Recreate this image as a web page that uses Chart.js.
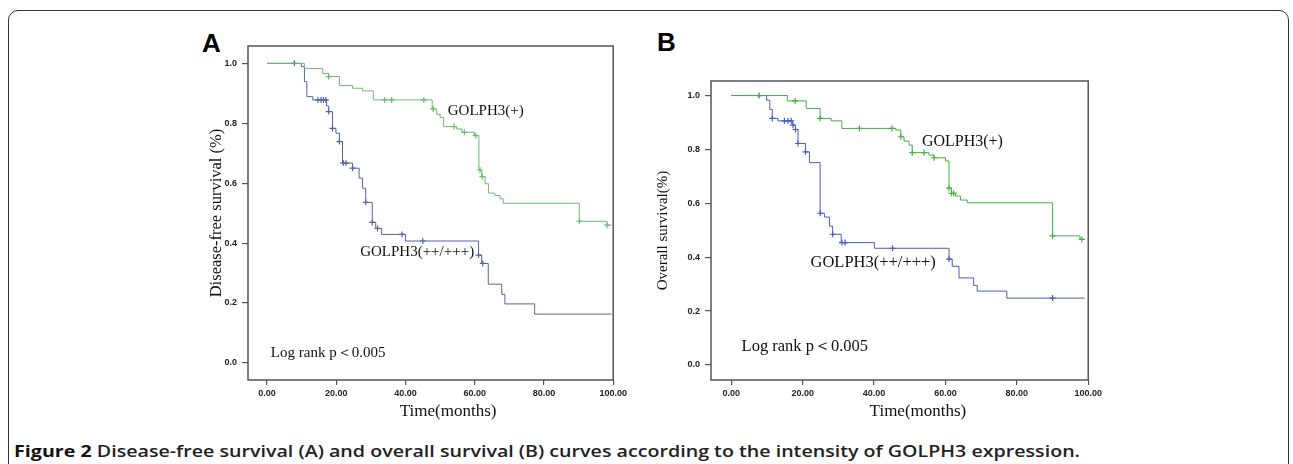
<!DOCTYPE html>
<html>
<head>
<meta charset="utf-8">
<script src="https://cdn.jsdelivr.net/npm/chart.js@4.4.0/dist/chart.umd.min.js"></script>
<style>
  body { margin: 0; background: #fff; width: 1293px; height: 464px; overflow: hidden; position: relative; }
  #frame { position: absolute; left: 8px; top: 10px; width: 1279px; height: 520px; border: 1.5px solid #333; border-radius: 10px; }
  .wrap { position: absolute; }
  .panel { position: absolute; font-family: "Liberation Sans", Arial, sans-serif; font-weight: bold; font-size: 26px; color: #000; }
  #caption { position: absolute; left: 14px; top: 440px; font-family: "Open Sans", "Noto Sans", sans-serif; font-weight: 600; font-size: 16px; color: #222; white-space: nowrap; transform-origin: 0 0; }
  #caption b { font-weight: 700; color: #111; }
</style>
</head>
<body>
<div id="frame"></div>
<div class="panel" style="left:202px;top:28px;">A</div>
<div class="panel" style="left:657px;top:27px;">B</div>
<div class="wrap" style="left:160px;top:20px;width:470px;height:412px;"><canvas id="chartA"></canvas></div>
<div class="wrap" style="left:640px;top:20px;width:465px;height:412px;"><canvas id="chartB"></canvas></div>
<div id="caption"><b>Figure 2</b> Disease-free survival (A) and overall survival (B) curves according to the intensity of GOLPH3 expression.</div>
<script>
// tick values / labels
const xTicks = [0, 20, 40, 60, 80, 100];
const xTickLabels = ['0.00', '20.00', '40.00', '60.00', '80.00', '100.00'];
const yTicks = [0, 0.2, 0.4, 0.6, 0.8, 1.0];
const yTickLabels = ['0.0', '0.2', '0.4', '0.6', '0.8', '1.0'];

// A: disease-free survival, GOLPH3(+)
const dfsPosTime = [0, 10.8, 16.1, 17.8, 20.9, 24.7, 27.6, 30.7, 47.7, 49, 50, 51, 54.8, 56.3, 59.9, 61.2, 62, 63, 64, 65.8, 67.3, 68.2, 90.2, 98.2, 99.5];
const dfsPosSurv = [1.0, 0.983, 0.966, 0.956, 0.926, 0.917, 0.908, 0.878, 0.848, 0.83, 0.82, 0.789, 0.781, 0.77, 0.759, 0.644, 0.622, 0.598, 0.567, 0.559, 0.548, 0.533, 0.473, 0.46, 0.46];
const dfsPosCensTime = [17.8, 34, 36, 45.3, 48, 54, 57, 60.3, 61.5, 62.2, 90.2, 98.2];
const dfsPosCensSurv = [0.956, 0.878, 0.878, 0.878, 0.848, 0.789, 0.77, 0.759, 0.644, 0.622, 0.473, 0.46];
// A: disease-free survival, GOLPH3(++/+++)
const dfsHighTime = [0, 9.9, 10.8, 11.5, 13.2, 17.2, 17.8, 18.9, 19.9, 20.9, 21.8, 24.7, 26.6, 27.6, 28.5, 30.4, 31.4, 33.1, 40, 61.1, 62, 63.9, 67.8, 68.7, 77.3, 99.5];
const dfsHighSurv = [1.0, 0.989, 0.939, 0.889, 0.878, 0.858, 0.839, 0.783, 0.767, 0.739, 0.667, 0.65, 0.617, 0.583, 0.536, 0.469, 0.449, 0.429, 0.407, 0.36, 0.332, 0.263, 0.229, 0.197, 0.163, 0.163];
const dfsHighCensTime = [7.9, 14.7, 15.6, 16.3, 17.0, 17.8, 18.9, 20.9, 22, 22.8, 24.7, 28.5, 30.4, 31.9, 39, 45, 61.1, 62.3];
const dfsHighCensSurv = [1.0, 0.878, 0.878, 0.878, 0.878, 0.839, 0.783, 0.739, 0.667, 0.667, 0.65, 0.536, 0.469, 0.449, 0.429, 0.407, 0.36, 0.332];

// B: overall survival, GOLPH3(+)
const osPosTime = [0, 15.7, 21, 24.9, 28, 31, 46.1, 47.5, 48.4, 49.8, 50.7, 55.4, 56.8, 60, 61, 61.7, 62.8, 64.2, 66.1, 90, 97.7, 99];
const osPosSurv = [1, 0.98, 0.952, 0.915, 0.906, 0.878, 0.872, 0.847, 0.831, 0.816, 0.788, 0.779, 0.769, 0.757, 0.656, 0.637, 0.627, 0.612, 0.602, 0.479, 0.466, 0.466];
const osPosCensTime = [17.9, 24.9, 35.9, 45, 47.5, 50.7, 54, 56.8, 61, 61.7, 62.3, 90, 98.2];
const osPosCensSurv = [0.98, 0.915, 0.878, 0.878, 0.847, 0.788, 0.788, 0.769, 0.656, 0.637, 0.637, 0.479, 0.466];
// B: overall survival, GOLPH3(++/+++)
const osHighTime = [0, 9.9, 10.8, 11.5, 13.1, 17.1, 18, 18.7, 20.8, 21.9, 24.9, 26.1, 27.5, 28.4, 30.8, 40.1, 61, 61.9, 63.8, 67.9, 68.9, 77.2, 99];
const osHighSurv = [1, 0.983, 0.948, 0.915, 0.906, 0.89, 0.874, 0.822, 0.791, 0.751, 0.563, 0.549, 0.515, 0.485, 0.454, 0.433, 0.393, 0.366, 0.323, 0.295, 0.274, 0.248, 0.248];
const osHighCensTime = [7.8, 11.5, 14.9, 15.9, 16.8, 17.3, 18, 18.7, 20.8, 24.9, 28.4, 31, 31.9, 45.2, 61, 90];
const osHighCensSurv = [1, 0.915, 0.906, 0.906, 0.906, 0.89, 0.874, 0.822, 0.791, 0.563, 0.485, 0.454, 0.454, 0.433, 0.393, 0.248];

const pts = (xs, ys) => xs.map((x, i) => ({ x: x, y: ys[i] }));

function curve(t, s, color) {
  // 'before' in Chart.js = flat at the previous value, then drop at the new time
  return { data: pts(t, s), borderColor: color, borderWidth: 1, stepped: 'before', pointRadius: 0, fill: false };
}
function censor(t, s, color) {
  return { data: pts(t, s), showLine: false, pointStyle: 'cross', pointRadius: 3, borderColor: color, borderWidth: 1.2 };
}

// draws the box, x title and the text notes
const notes = {
  id: 'notes',
  afterDraw(chart, args, opts) {
    const { ctx, chartArea: a, scales } = chart;
    ctx.save();
    ctx.strokeStyle = '#555';
    ctx.lineWidth = 1.5;
    ctx.strokeRect(a.left, a.top, a.right - a.left, a.bottom - a.top);
    ctx.fillStyle = '#111';
    ctx.textBaseline = 'middle';
    ctx.font = '17px "Liberation Serif", "Times New Roman", serif';
    ctx.textAlign = 'center';
    ctx.fillText('Time(months)', scales.x.getPixelForValue(52.3), opts.titleY);
    ctx.textAlign = 'left';
    opts.items.forEach(it => {
      ctx.font = it.size + 'px "Liberation Serif", "Times New Roman", serif';
      ctx.fillText(it.text, scales.x.getPixelForValue(it.x), scales.y.getPixelForValue(it.y));
    });
    ctx.restore();
  }
};

function makeChart(id, datasets, yTitle, titleSize, yWidth, titlePad, padTop, xMin, yMin, yMax, items) {
  return new Chart(document.getElementById(id), {
    type: 'line',
    data: { datasets: datasets },
    options: {
      responsive: true,
      maintainAspectRatio: false,
      animation: false,
      layout: { padding: { left: 0, right: 14, top: padTop, bottom: 0 } },
      plugins: { legend: { display: false }, tooltip: { enabled: false }, notes: { items: items, titleY: 392 } },
      scales: {
        x: {
          type: 'linear', min: xMin, max: 100,
          afterBuildTicks: s => { s.ticks = xTicks.map(v => ({ value: v })); },
          afterFit: s => { s.height = 52; },
          ticks: { callback: (v) => xTickLabels[xTicks.indexOf(v)], color: '#222', font: { family: 'Liberation Sans', size: 9, weight: 'bold' }, padding: 3, maxRotation: 0 },
          grid: { drawOnChartArea: false, drawTicks: true, tickLength: 5, color: '#555', lineWidth: 1.2 },
          border: { display: false }
        },
        y: {
          min: yMin, max: yMax,
          afterBuildTicks: s => { s.ticks = yTicks.map(v => ({ value: v })); },
          afterFit: s => { s.width = yWidth; },
          ticks: { callback: (v) => yTickLabels[yTicks.indexOf(v)], color: '#222', font: { family: 'Liberation Sans', size: 9, weight: 'bold' }, padding: 5 },
          grid: { drawOnChartArea: false, drawTicks: true, tickLength: 6, color: '#555', lineWidth: 1.2 },
          border: { display: false },
          title: { display: true, text: yTitle, color: '#111', font: { family: '"Liberation Serif", "Times New Roman", serif', size: titleSize }, padding: { top: titlePad, bottom: 0 } }
        }
      }
    },
    plugins: [notes]
  });
}

const greenA = '#6fba6f', blueA = '#5563a8';
const greenB = '#45b045', blueB = '#4a5cc4';

makeChart('chartA', [
  curve(dfsPosTime, dfsPosSurv, greenA),
  curve(dfsHighTime, dfsHighSurv, blueA),
  censor(dfsPosCensTime, dfsPosCensSurv, greenA),
  censor(dfsHighCensTime, dfsHighCensSurv, blueA)
], 'Disease-free survival (%)', 16.5, 88, 47, 26, -5.5, -0.057, 1.058, [
  { text: 'GOLPH3(+)', x: 52.2, y: 0.841, size: 15 },
  { text: 'GOLPH3(++/+++)', x: 26.9, y: 0.371, size: 15 },
  { text: 'Log rank p\uFF1C0.005', x: 1.1, y: 0.034, size: 15 }
]);

makeChart('chartB', [
  curve(osPosTime, osPosSurv, greenB),
  curve(osHighTime, osHighSurv, blueB),
  censor(osPosCensTime, osPosCensSurv, greenB),
  censor(osHighCensTime, osHighCensSurv, blueB)
], 'Overall survival(%)', 15, 71, 14, 61, -5.67, -0.056, 1.054, [
  { text: 'GOLPH3(+)', x: 53.4, y: 0.828, size: 16 },
  { text: 'GOLPH3(++/+++)', x: 22.2, y: 0.379, size: 16.5 },
  { text: 'Log rank p\uFF1C0.005', x: 2.9, y: 0.066, size: 16.5 }
]);

// stretch caption to the width it has in the figure
const cap = document.getElementById('caption');
cap.style.transform = 'scaleX(' + (1066 / cap.getBoundingClientRect().width) + ')';
</script>
</body>
</html>
